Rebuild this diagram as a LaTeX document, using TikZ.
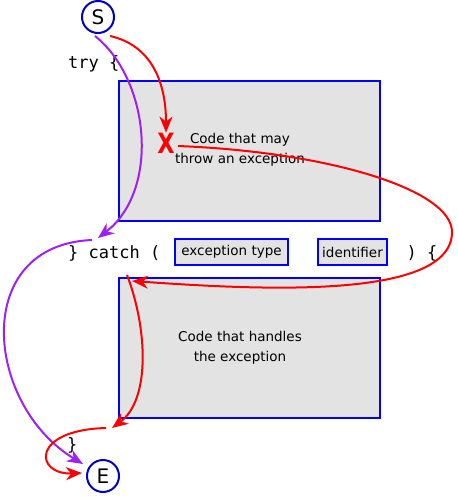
\documentclass[tikz,border=0pt]{standalone}
\usepackage{fontspec}
\usepackage{graphicx}
\setmainfont{DejaVu Sans}
\newfontfamily\codefont{DejaVu Sans Mono}
\usetikzlibrary{arrows.meta}
\definecolor{boxfill}{HTML}{E3E3E3}
\definecolor{flowpurple}{RGB}{160,32,240}
\definecolor{circblue}{RGB}{0,0,190}
\begin{document}
\begin{tikzpicture}[x=1pt,y=-1pt,
  blockbox/.style={draw=blue, line width=2pt, fill=boxfill, inner sep=0pt, anchor=north west},
  smallbox/.style={draw=blue, line width=2pt, fill=boxfill, inner sep=0pt, minimum height=26pt, font=\fontsize{13.5}{16}\selectfont},
  bodytext/.style={align=center, inner sep=0pt, font=\fontsize{13.5}{20}\selectfont},
  codetext/.style={anchor=base west, inner sep=0pt, font=\codefont\fontsize{17}{19}\selectfont},
  endpoint/.style={circle, draw=circblue, line width=2pt, minimum size=32pt, inner sep=0pt, font=\fontsize{20}{20}\selectfont},
  redflow/.style={draw=red, line width=2pt, -{Stealth[length=16pt,width=13pt,inset=5pt]}},
  purpleflow/.style={draw=flowpurple, line width=2pt, -{Stealth[length=16pt,width=13pt,inset=5pt]}}
]
\useasboundingbox (0,0) rectangle (457,497);
\fill[white] (0,0) rectangle (457,497);

% start / end
\node[endpoint] (S) at (98,17) {S};
\node[endpoint] (E) at (103,476) {E};

% code keywords
\node[codetext] (trykw) at (68,69) {try \{};
\node[codetext] (catchkw) at (68,258) {\} catch (};
\node[codetext] (closekw) at (406.5,258) {)\ \{};
\node[codetext] (endkw) at (67,450) {\}};

% blocks
\node[blockbox, minimum width=261pt, minimum height=140pt] (tryblock) at (118,80) {};
\node[bodytext] (trytext) at (240,150) {Code that may\\throw an exception};
\node[blockbox, minimum width=261pt, minimum height=140pt] (catchblock) at (118,277) {};
\node[bodytext] (catchtext) at (240,347.5) {Code that handles\\the exception};

\node[smallbox, minimum width=113pt] (etype) at (231.5,252) {exception type};
\node[smallbox, minimum width=69pt] (ident) at (352.5,252) {identifier};

% exception mark
\node[text=red, inner sep=0pt, font=\bfseries\fontsize{28}{28}\selectfont] (X) at (166,143) {\scalebox{0.8}[1]{X}};

% free ends
\coordinate (r1s) at (110,36);
\coordinate (p1s) at (95,36);
\coordinate (p1e) at (98,238);
\coordinate (r2s) at (178,146);
\coordinate (r2m) at (452,232);
\coordinate (r2e) at (132,281);
\coordinate (r3s) at (127,275);
\coordinate (r3e) at (112,428);
\coordinate (r4s) at (106,428);
\coordinate (r4e) at (82,473);
\coordinate (p2s) at (92,240);
\coordinate (p2e) at (83,464);

% normal flow (purple)
\draw[purpleflow] (p1s) .. controls (150,80) and (160,190) .. (p1e);
\draw[purpleflow] (p2s) .. controls (-30,245) and (-15,405) .. (p2e);

% exception flow (red)
\draw[redflow] (r1s) .. controls (150,45) and (166,80) .. (X.north);
\draw[redflow] (r2s) .. controls (330,152) and (452,190) .. (r2m) .. controls (452,300) and (260,290) .. (r2e);
\draw[redflow] (r3s) .. controls (148,330) and (150,400) .. (r3e);
\draw[redflow] (r4s) .. controls (30,430) and (35,475) .. (r4e);
\end{tikzpicture}
\end{document}
